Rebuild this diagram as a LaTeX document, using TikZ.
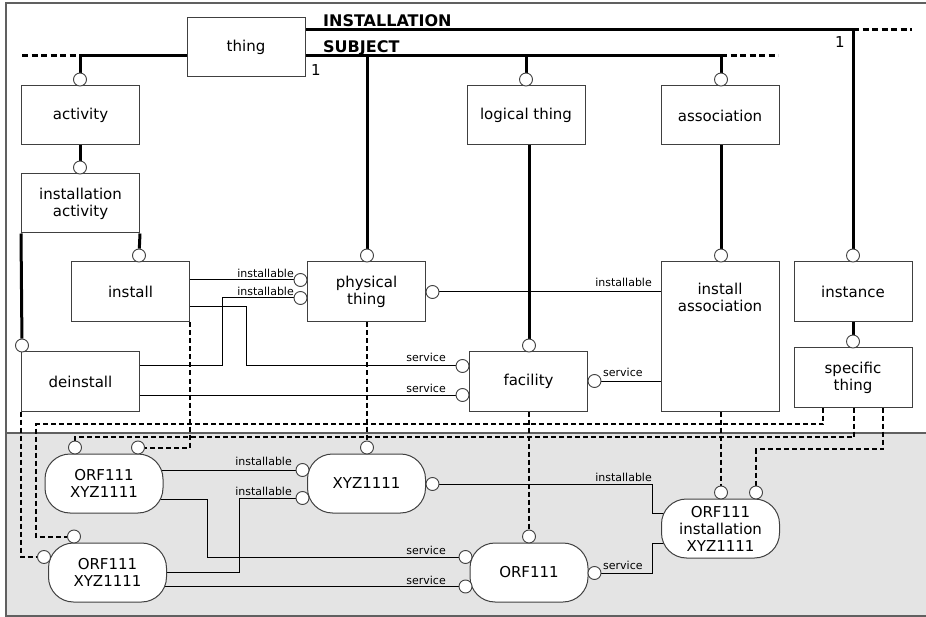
\documentclass[tikz,border=0pt]{standalone}
\usepackage{fontspec}
\setmainfont{DejaVu Sans}
\pgfdeclarelayer{band}
\pgfdeclarelayer{wires}
\pgfsetlayers{band,wires,main}
\newcommand\boxfont{\fontsize{15}{17}\selectfont}
\newcommand\tagfont{\fontsize{11}{12}\selectfont}
\newcommand\busfont{\fontsize{16}{18}\selectfont\bfseries}
\definecolor{bandgray}{RGB}{228,228,228}
\definecolor{edgegray}{RGB}{96,96,96}
\definecolor{boxedge}{RGB}{64,64,64}

\tikzset{
  box/.style={draw=boxedge, line width=1pt, fill=white, minimum width=118pt,
    minimum height=59pt, align=center, inner sep=0pt, font=\boxfont},
  pill/.style={box, rounded corners=25pt},
  boxtext/.style={align=center, inner sep=0pt, font=\boxfont},
  port/.style={circle, draw=boxedge, line width=0.9pt, fill=white,
    minimum size=13pt, inner sep=0pt},
  strong/.style={line width=3pt, black},
  busdash/.style={line width=3pt, black, dash pattern=on 6pt off 3.5pt},
  link/.style={line width=1pt, black},
  inst/.style={line width=2pt, black, dash pattern=on 5pt off 3pt},
  tag/.style={font=\tagfont, inner sep=0pt},
}

\begin{document}
\begin{tikzpicture}[x=1pt, y=-1pt]
\useasboundingbox (0,0) rectangle (926,617);

% ---------- generic (upper) level ----------
\node[box] (thing)     at (246,47.5)   {thing};
\node[box] (activity)  at (80.5,115.5) {activity};
\node[box] (instact)   at (80.5,203.5) {installation\\activity};
\node[box, minimum height=60pt] (install) at (130.5,292) {install};
\node[box] (deinstall) at (80.5,381.5) {deinstall};
\node[box, minimum height=60pt] (phys) at (366.5,292) {physical\\thing};
\node[box] (logical)   at (526,115.5)  {logical thing};
\node[box] (assoc)     at (720,115.5)  {association};
\node[box] (facility)  at (528.5,381.5) {facility};
\node[box, minimum height=149pt] (instassoc) at (720,336.5) {};
\node[boxtext] (instassoctext) at (720,297) {install\\association};
\node[box, minimum height=60pt] (instance) at (853,292) {instance};
\node[box] (specific)  at (853,377.5)  {specific\\thing};

% ---------- instances (lower band) ----------
\node[pill] (orf1)    at (104,483.5)   {ORF111\\XYZ1111};
\node[pill] (orf2)    at (107.5,572.5) {ORF111\\XYZ1111};
\node[pill] (xyz)     at (366.5,483.5) {XYZ1111};
\node[pill] (orf)     at (529,572.5)   {ORF111};
\node[pill] (orfinst) at (720.5,528.5)  {ORF111\\installation\\XYZ1111};

% ---------- ports ----------
\node[port] (pAct)       at (80,79.5)    {};
\node[port] (pInstAct)   at (80,167.5)   {};
\node[port] (pInstall)   at (139,255.5)  {};
\node[port] (pDeinstall) at (22,345.5)   {};
\node[port] (pPhys)      at (367,255.5)  {};
\node[port] (pLog)       at (526,79.5)   {};
\node[port] (pAssoc)     at (721,79.5)   {};
\node[port] (pFac)       at (529,345.5)  {};
\node[port] (pIAssoc)    at (721,255.5)  {};
\node[port] (pInstance)  at (853,255.5)  {};
\node[port] (pSpec)      at (853,341.5)  {};
\node[port] (pPhysIn1)   at (300.5,280)  {};
\node[port] (pPhysIn2)   at (300.5,298)  {};
\node[port] (pPhysOut)   at (432.5,292)  {};
\node[port] (pFacIn1)    at (462.5,366)  {};
\node[port] (pFacIn2)    at (462.5,395)  {};
\node[port] (pFacOut)    at (594.5,381)  {};

\node[port] (qOrf1a)  at (75,447.5)   {};
\node[port] (qOrf1b)  at (138,447.5)  {};
\node[port] (qOrf2t)  at (74,536.5)   {};
\node[port] (qOrf2l)  at (44,557)     {};
\node[port] (qXyzT)   at (367,447.5)  {};
\node[port] (qXyzIn1) at (302.5,470)  {};
\node[port] (qXyzIn2) at (302.5,498)  {};
\node[port] (qXyzOut) at (432.5,484)  {};
\node[port] (qOrfT)   at (529,536.5)  {};
\node[port] (qOrfIn1) at (465.5,557)  {};
\node[port] (qOrfIn2) at (465.5,586.5) {};
\node[port] (qOrfOut) at (594.5,573)  {};
\node[port] (qOiA)    at (721,492.5)  {};
\node[port] (qOiB)    at (756,492.5)  {};

% ---------- bus lines ----------
\coordinate (sbjA)  at (80,56);
\coordinate (sbjB)  at (721,56);
\coordinate (sbjL)  at (22,56);
\coordinate (sbjR)  at (778,56);
\coordinate (insA)  at (853,29.5);
\coordinate (insR)  at (912,29.5);

% ---------- bends ----------
\coordinate (k1) at (222,366);
\coordinate (k2) at (246,307);
\coordinate (b1) at (207,499);
\coordinate (b2) at (239,572);
\coordinate (b3) at (652,513);
\coordinate (b4) at (652,543);
\coordinate (d1) at (823,424);
\coordinate (d2) at (36,424);
\coordinate (d3) at (854,437);
\coordinate (d4) at (883,449);

\begin{pgfonlayer}{band}
  \fill[bandgray] (6,433) rectangle (926,616);
  \draw[edgegray, line width=1.2pt] (926,3) -- (6,3) -- (6,616) -- (926,616);
  \draw[edgegray, line width=1.2pt] (6,433) -- (926,433);
\end{pgfonlayer}

\begin{pgfonlayer}{wires}
  % subtype hierarchy
  \draw[busdash] (sbjL) -- (sbjA);
  \draw[strong] (sbjA) -- (thing.west |- sbjA);
  \draw[strong] (thing.east |- sbjA) -- (sbjB);
  \draw[busdash] (sbjB) -- (sbjR);
  \draw[strong] (thing.east |- insA) -- (insA) -- (pInstance);
  \draw[busdash] (insA) -- (insR);
  \draw[strong] (pAct |- sbjA) -- (pAct);
  \draw[strong] (pPhys |- sbjA) -- (pPhys);
  \draw[strong] (pLog |- sbjA) -- (pLog);
  \draw[strong] (pAssoc |- sbjA) -- (pAssoc);
  \draw[strong] (activity.south -| pInstAct) -- (pInstAct);
  \draw[strong] (instact.south east) -- (pInstall);
  \draw[strong] (instact.south west) -- (pDeinstall);
  \draw[strong] (logical.south -| pFac) -- (pFac);
  \draw[strong] (assoc.south -| pIAssoc) -- (pIAssoc);
  \draw[strong] (instance.south -| pSpec) -- (pSpec);

  % roles (generic)
  \draw[link] (install.center |- pPhysIn1) -- (pPhysIn1);
  \draw[link] (deinstall.center |- k1) -- (k1) |- (pPhysIn2);
  \draw[link] (install.center |- k2) -- (k2) |- (pFacIn1);
  \draw[link] (deinstall.center |- pFacIn2) -- (pFacIn2);
  \draw[link] (pPhysOut) -- (instassoc.center |- pPhysOut);
  \draw[link] (pFacOut) -- (instassoc.center |- pFacOut);

  % roles (instances)
  \draw[link] (orf1.center |- qXyzIn1) -- (qXyzIn1);
  \draw[link] (orf1.center |- b1) -- (b1) |- (qOrfIn1);
  \draw[link] (orf2.center |- b2) -- (b2) |- (qXyzIn2);
  \draw[link] (orf2.center |- qOrfIn2) -- (qOrfIn2);
  \draw[link] (qXyzOut) -| (b3) -- (orfinst.center |- b3);
  \draw[link] (qOrfOut) -| (b4) -- (orfinst.center |- b4);

  % classification of instances
  \draw[inst] (install.south east) |- (qOrf1b);
  \draw[inst] (deinstall.south west) |- (qOrf2l);
  \draw[inst] (phys.south -| qXyzT) -- (qXyzT);
  \draw[inst] (facility.south -| qOrfT) -- (qOrfT);
  \draw[inst] (instassoc.south -| qOiA) -- (qOiA);
  \draw[inst] (specific.south -| d1) -- (d1) -- (d2) |- (qOrf2t);
  \draw[inst] (specific.south -| d3) -- (d3) -| (qOrf1a);
  \draw[inst] (specific.south -| d4) -- (d4) -| (qOiB);
\end{pgfonlayer}

% ---------- labels ----------
\node[font=\busfont, anchor=base west, inner sep=0pt] (lblInst) at (323,27) {INSTALLATION};
\node[font=\busfont, anchor=base west, inner sep=0pt] (lblSubj) at (323,52.5) {SUBJECT};
\node[font=\boxfont, anchor=base, inner sep=0pt] (card1) at (316,76) {1};
\node[font=\boxfont, anchor=base, inner sep=0pt] (card2) at (840,48) {1};

\node[tag, anchor=base east] (t1)  at (294,278)   {installable};
\node[tag, anchor=base east] (t2)  at (294,295.5) {installable};
\node[tag, anchor=base east] (t3)  at (652,287)   {installable};
\node[tag, anchor=base east] (t4)  at (446,362)   {service};
\node[tag, anchor=base east] (t5)  at (446,392)   {service};
\node[tag, anchor=base west] (t6)  at (603,377)   {service};
\node[tag, anchor=base east] (t7)  at (292,465.5) {installable};
\node[tag, anchor=base east] (t8)  at (292,495)   {installable};
\node[tag, anchor=base east] (t9)  at (446,554.5) {service};
\node[tag, anchor=base east] (t10) at (446,584)   {service};
\node[tag, anchor=base east] (t11) at (652,481)   {installable};
\node[tag, anchor=base west] (t12) at (603,569.5) {service};
\end{tikzpicture}
\end{document}
